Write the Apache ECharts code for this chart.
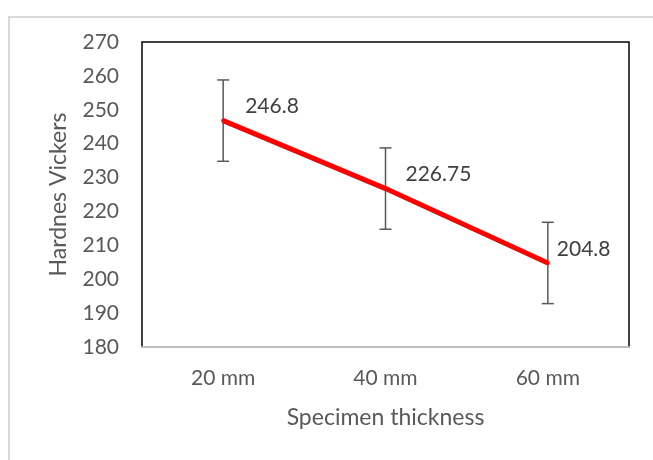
<!DOCTYPE html>
<html>
<head>
<meta charset="utf-8">
<script src="https://cdn.jsdelivr.net/npm/echarts@6/dist/echarts.min.js"></script>
<style>html,body{margin:0;padding:0;background:#fff;}#c{width:653px;height:460px;}</style>
</head>
<body>
<div id="c"></div>
<script>
var categories = ['20 mm', '40 mm', '60 mm'];
var hardness = [246.8, 226.75, 204.8];
var errLow = [234.8, 214.75, 192.8];
var errHigh = [258.8, 238.75, 216.8];
var labelOffsets = [[15, -14], [13, -14], [2, -14]];

var FONT = 'Lato';
var chart = echarts.init(document.getElementById('c'), null, {renderer: 'canvas'});
var errData = categories.map(function (c, i) { return [i, errLow[i], errHigh[i]]; });
var lineData = hardness.map(function (v, i) {
  return {value: v, label: {offset: labelOffsets[i]}};
});

chart.setOption({
  animation: false,
  backgroundColor: '#fff',
  graphic: [{
    type: 'rect', silent: true, z: -10,
    shape: {x: 9, y: 17, width: 700, height: 500},
    style: {fill: 'none', stroke: '#d9d9d9', lineWidth: 2}
  }],
  grid: {left: 142, top: 42, right: 24, bottom: 113, show: true, borderColor: '#000', borderWidth: 1.5, backgroundColor: 'transparent'},
  xAxis: {
    type: 'category', data: categories, boundaryGap: true,
    name: 'Specimen thickness', nameLocation: 'middle', nameGap: 59,
    nameTextStyle: {fontFamily: FONT, fontSize: 23, color: '#595959'},
    axisLine: {show: true, lineStyle: {color: '#bfbfbf', width: 2}},
    axisTick: {show: false},
    axisLabel: {fontFamily: FONT, fontSize: 21, color: '#595959', margin: 21}
  },
  yAxis: {
    type: 'value', min: 180, max: 270, interval: 10,
    name: 'Hardnes Vickers', nameLocation: 'middle', nameGap: 72, nameRotate: 90,
    nameTextStyle: {fontFamily: FONT, fontSize: 23, color: '#595959'},
    axisLine: {show: false}, axisTick: {show: false}, splitLine: {show: false},
    axisLabel: {fontFamily: FONT, fontSize: 21, color: '#595959', margin: 23}
  },
  series: [{
    type: 'custom', z: 2,
    data: errData,
    renderItem: function (params, api) {
      var x = api.value(0);
      var lo = api.coord([x, api.value(1)]);
      var hi = api.coord([x, api.value(2)]);
      var w = 6;
      var st = {stroke: '#595959', lineWidth: 1.5, fill: 'none'};
      return {type: 'group', children: [
        {type: 'line', shape: {x1: lo[0], y1: lo[1], x2: hi[0], y2: hi[1]}, style: st},
        {type: 'line', shape: {x1: lo[0] - w, y1: lo[1], x2: lo[0] + w, y2: lo[1]}, style: st},
        {type: 'line', shape: {x1: hi[0] - w, y1: hi[1], x2: hi[0] + w, y2: hi[1]}, style: st}
      ]};
    }
  }, {
    type: 'line', z: 3,
    data: lineData,
    symbol: 'circle', symbolSize: 4, showSymbol: true,
    itemStyle: {color: '#ff0000'},
    lineStyle: {color: '#ff0000', width: 5},
    label: {show: true, position: 'right', distance: 5, fontFamily: FONT, fontSize: 21, color: '#404040'}
  }]
});
</script>
</body>
</html>
